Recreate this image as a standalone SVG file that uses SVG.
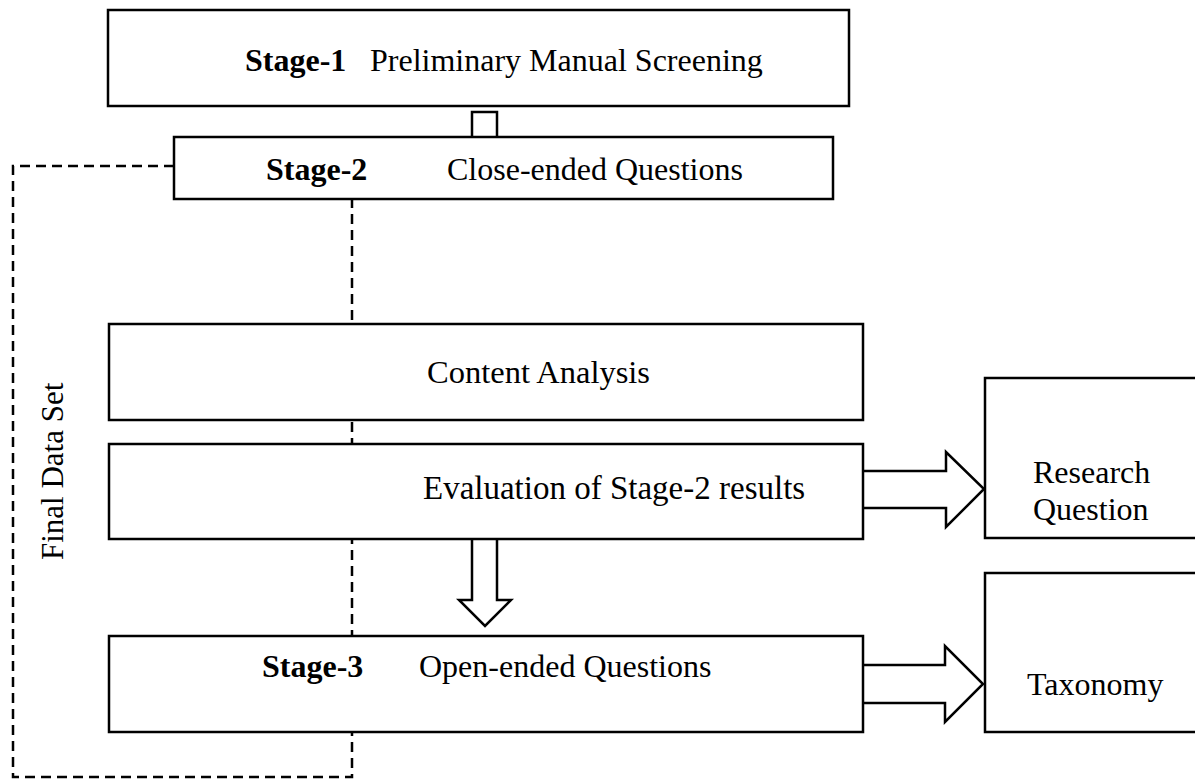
<svg xmlns="http://www.w3.org/2000/svg" width="1195" height="779" viewBox="0 0 1195 779">
<style>
.box{fill:#fff;stroke:#000;stroke-width:2.5}
.arr{fill:#fff;stroke:#000;stroke-width:2.5;stroke-linejoin:miter}
.dash{fill:none;stroke:#000;stroke-width:2.5;stroke-dasharray:10 6}
text{font-family:"Liberation Serif","Times New Roman",serif;font-size:32px;fill:#000}
.b{font-weight:bold}
</style>
<rect width="1195" height="779" fill="#fff"/>
<g id="connectors">
<path class="dash" d="M174,166 H13 V777 H352 V199"/>
<path id="c-s1-s2" class="arr" d="M472,137 V112 H497 V137"/>
<path id="c-eval-s3" class="arr" d="M472,539 V600 H459 L485,626 L511,600 H497 V539"/>
<path id="c-eval-rq" class="arr" d="M863,471 H946 V452 L984,489 L946,527 V508 H863"/>
<path id="c-s3-tax" class="arr" d="M863,665 H945 V646 L983,684 L945,722 V703 H863"/>
</g>
<g id="n-stage1">
<rect class="box" x="108" y="10" width="741" height="96"/>
<text x="245" y="71"><tspan class="b">Stage-1</tspan><tspan x="370">Preliminary Manual Screening</tspan></text>
</g>
<g id="n-stage2">
<rect class="box" x="174" y="137" width="659" height="62"/>
<text x="266" y="180"><tspan class="b">Stage-2</tspan><tspan x="447">Close-ended Questions</tspan></text>
</g>
<g id="n-content">
<rect class="box" x="109" y="324" width="754" height="96"/>
<text x="427" y="383" style="font-size:32.5px">Content Analysis</text>
</g>
<g id="n-eval">
<rect class="box" x="109" y="444" width="754" height="95"/>
<text x="423" y="499" style="font-size:33px">Evaluation of Stage-2 results</text>
</g>
<g id="n-stage3">
<rect class="box" x="109" y="636" width="754" height="96"/>
<text x="262" y="677"><tspan class="b">Stage-3</tspan><tspan x="419">Open-ended Questions</tspan></text>
</g>
<g id="n-rq">
<rect class="box" x="985" y="378" width="230" height="160"/>
<text x="1033" y="483">Research</text>
<text x="1033" y="520">Question</text>
</g>
<g id="n-tax">
<rect class="box" x="985" y="573" width="230" height="159"/>
<text x="1027" y="695">Taxonomy</text>
</g>
<g id="n-final">
<text transform="translate(63,560) rotate(-90)" style="font-size:31px">Final Data Set</text>
</g>
</svg>
